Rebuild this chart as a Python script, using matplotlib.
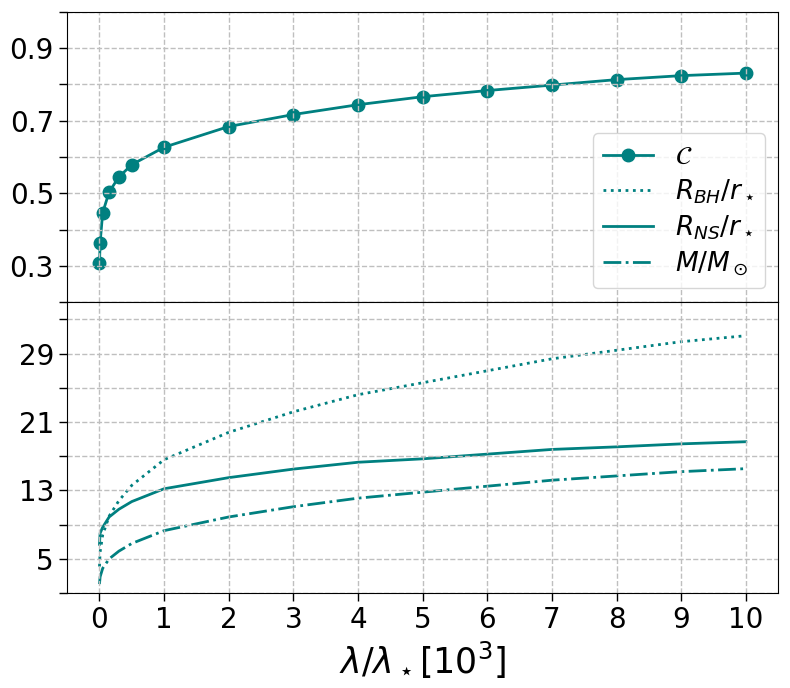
import numpy as np
import matplotlib
matplotlib.use('Agg')
import matplotlib.pyplot as plt
from matplotlib.ticker import MultipleLocator, FixedLocator

# lambda / lambda_star in units of 10^3
lam = [0, 0.01, 0.05, 0.15, 0.3, 0.5, 1, 2, 3, 4, 5, 6, 7, 8, 9, 10]
compactness = [0.307, 0.364, 0.447, 0.504, 0.545, 0.579, 0.627, 0.684,
               0.717, 0.744, 0.766, 0.783, 0.798, 0.813, 0.824, 0.831]
r_bh = [4.1, 5.8, 7.8, 10.0, 11.8, 13.6, 16.6, 19.8,
        22.2, 24.2, 25.6, 27.0, 28.4, 29.4, 30.4, 31.1]
r_ns = [6.7, 8.0, 8.7, 9.9, 10.8, 11.7, 13.2, 14.5,
        15.5, 16.3, 16.7, 17.25, 17.8, 18.1, 18.45, 18.7]
mass = [2.05, 2.9, 3.9, 5.0, 5.9, 6.8, 8.3, 9.9,
        11.1, 12.1, 12.8, 13.5, 14.2, 14.7, 15.2, 15.55]

color = 'teal'

fig, (ax1, ax2) = plt.subplots(2, 1, sharex=True, figsize=(7.9, 6.88), dpi=100)
fig.subplots_adjust(left=0.085, right=0.985, top=0.983, bottom=0.138, hspace=0)

l1, = ax1.plot(lam, compactness, 'o-', color=color, lw=2, ms=9, label=r'$\mathcal{C}$')
l2, = ax2.plot(lam, r_bh, ':', color=color, lw=2, label=r'$R_{BH}/r_\star$')
l3, = ax2.plot(lam, r_ns, '-', color=color, lw=2, label=r'$R_{NS}/r_\star$')
l4, = ax2.plot(lam, mass, '-.', color=color, lw=2, label=r'$M/M_\odot$')

ax1.set_ylim(0.2, 1.0)
ax1.yaxis.set_major_locator(FixedLocator([0.3, 0.5, 0.7, 0.9]))
ax1.yaxis.set_minor_locator(FixedLocator([0.2, 0.4, 0.6, 0.8, 1.0]))

ax2.set_ylim(1, 35)
ax2.yaxis.set_major_locator(FixedLocator([5, 13, 21, 29]))
ax2.yaxis.set_minor_locator(FixedLocator([1, 9, 17, 25, 33]))

ax2.set_xlim(-0.5, 10.5)
ax2.xaxis.set_major_locator(MultipleLocator(1))

for ax in (ax1, ax2):
    ax.set_axisbelow(False)
    ax.grid(True, which='major', linestyle='--', color='0.75', lw=1)
    ax.grid(True, which='minor', axis='y', linestyle='--', color='0.75', lw=1)
    ax.tick_params(which='both', labelsize=20, length=6, width=1)
    for sp in ax.spines.values():
        sp.set_zorder(3)

ax2.set_xlabel(r'$\lambda/\lambda_\star[10^3]$', fontsize=25)

ax1.legend(handles=[l1, l2, l3, l4], loc='lower right', fontsize=19,
           bbox_to_anchor=(0.982, 0.048), borderaxespad=0,
           handlelength=1.9, labelspacing=0.28)

plt.savefig('out.png', dpi=100)
